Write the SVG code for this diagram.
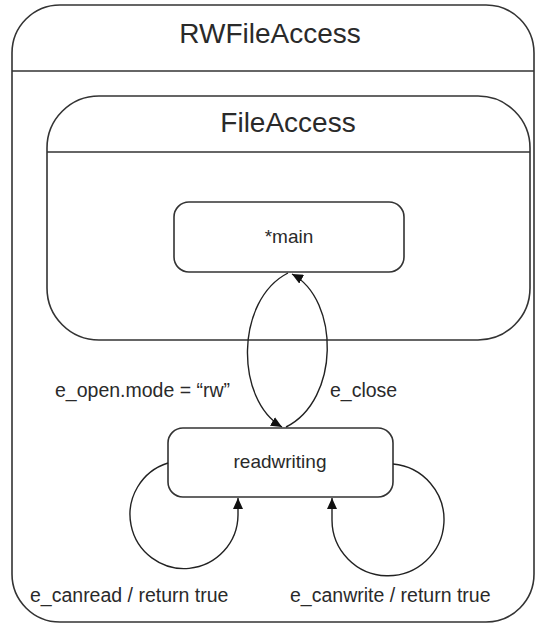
<svg xmlns="http://www.w3.org/2000/svg" width="535" height="625" viewBox="0 0 535 625">
<style>
.box{fill:#fff;stroke:#333;stroke-width:1.6}
.sep{stroke:#333;stroke-width:1.6;fill:none}
.title{font-family:"Liberation Sans",Arial,sans-serif;font-size:28px;fill:#2a2a2a;text-anchor:middle}
.lbl{font-family:"Liberation Sans",Arial,sans-serif;font-size:19.5px;fill:#2a2a2a}
.st{font-family:"Liberation Sans",Arial,sans-serif;font-size:19px;fill:#2a2a2a;text-anchor:middle}
.edge{fill:none;stroke:#222;stroke-width:1.4;marker-end:url(#arr)}
</style>
<defs>
<marker id="arr" markerUnits="userSpaceOnUse" markerWidth="12" markerHeight="10" refX="11" refY="5" orient="auto">
<path d="M0,0 L11,5 L0,10 z" fill="#111"/>
</marker>
</defs>
<rect width="535" height="625" fill="#fff"/>
<g id="RWFileAccess">
<rect class="box" x="12" y="5" width="522" height="617" rx="48" ry="48"/>
<line class="sep" x1="12" y1="71" x2="534" y2="71"/>
<text class="title" x="270" y="43">RWFileAccess</text>
</g>
<g id="FileAccess">
<rect class="box" x="47" y="96" width="483" height="244" rx="52" ry="52"/>
<line class="sep" x1="47" y1="152" x2="530" y2="152"/>
<text class="title" x="288" y="132">FileAccess</text>
</g>
<g id="main">
<rect class="box" x="174" y="202" width="230" height="70" rx="15" ry="15"/>
<text class="st" x="289" y="243">*main</text>
</g>
<g id="readwriting">
<rect class="box" x="168" y="428" width="225" height="69" rx="15" ry="15"/>
<text class="st" x="280" y="468">readwriting</text>
</g>
<g id="connectors">
<path class="edge" d="M288,273 C235,300 235,400 282,427"/>
<path class="edge" d="M286,427 C340,400 340,300 292,274"/>
<path class="edge" d="M168,463 A54,54 0 1 0 238,515 L238,498"/>
<path class="edge" d="M393,464 A56,56 0 1 1 332,520 L332,498"/>
<text class="lbl" x="55" y="397">e_open.mode = “rw”</text>
<text class="lbl" x="330" y="397">e_close</text>
<text class="lbl" x="30" y="602">e_canread / return true</text>
<text class="lbl" x="290" y="602">e_canwrite / return true</text>
</g>
</svg>
